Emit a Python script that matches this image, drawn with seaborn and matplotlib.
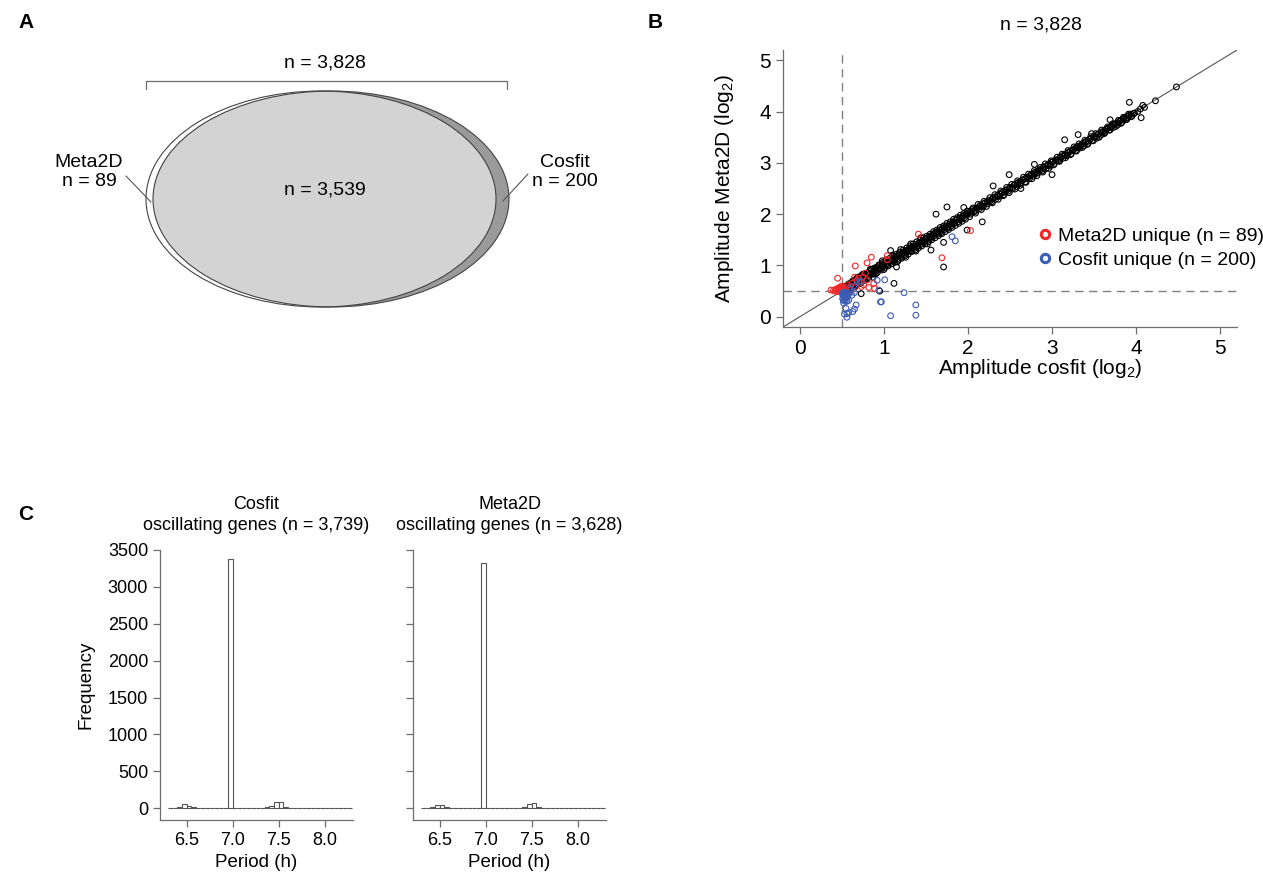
import numpy as np
import matplotlib
matplotlib.use("Agg")
import matplotlib.pyplot as plt
from matplotlib.patches import Ellipse
from matplotlib.lines import Line2D
import seaborn as sns

# ---- panel A: overlap counts
n_total = "3,828"
n_shared = "3,539"
n_meta2d_only = 89
n_cosfit_only = 200

# ---- panel B: amplitudes (log2)
shared_cosfit = [
    0.50, 0.51, 0.52, 0.53, 0.54, 0.55, 0.56, 0.57, 0.58, 0.59, 0.60, 0.61, 0.62, 0.63,
    0.64, 0.65, 0.66, 0.68, 0.70, 0.71, 0.72, 0.74, 0.75, 0.76, 0.78, 0.80, 0.81, 0.83,
    0.85, 0.86, 0.88, 0.90, 0.91, 0.93, 0.95, 0.96, 0.98, 1.00,
    1.02, 1.04, 1.06, 1.08, 1.10, 1.12, 1.14, 1.16, 1.18, 1.20, 1.22, 1.24, 1.26, 1.28,
    1.30, 1.32, 1.34, 1.36, 1.38, 1.40, 1.42, 1.44, 1.46, 1.48, 1.50, 1.52, 1.54, 1.56,
    1.58, 1.60, 1.62, 1.64, 1.66, 1.68, 1.70, 1.72, 1.74, 1.76, 1.78, 1.80, 1.82, 1.84,
    1.86, 1.88, 1.90, 1.92, 1.94, 1.96, 1.98,
    2.00, 2.03, 2.05, 2.08, 2.10, 2.13, 2.15, 2.18, 2.20, 2.23, 2.25, 2.28, 2.30, 2.33,
    2.35, 2.38, 2.40, 2.43, 2.45, 2.48, 2.50, 2.53, 2.55, 2.58, 2.60, 2.63, 2.65, 2.68,
    2.70, 2.73, 2.75, 2.78, 2.80, 2.83, 2.85, 2.88, 2.90, 2.93, 2.95, 2.98,
    3.00, 3.03, 3.05, 3.08, 3.10, 3.13, 3.15, 3.18, 3.20, 3.23, 3.25, 3.28, 3.30, 3.33,
    3.35, 3.38, 3.40, 3.43, 3.45, 3.48, 3.50, 3.53, 3.55, 3.58, 3.60, 3.63, 3.65, 3.68,
    3.70, 3.73, 3.75, 3.78, 3.80, 3.83, 3.86, 3.89, 3.92, 3.95, 3.98, 4.02, 4.05, 4.10,
    1.62, 1.75, 2.17, 1.99, 1.71, 1.71, 1.56, 1.12, 0.95, 0.73, 1.15, 2.30, 2.49, 2.63,
    3.00, 3.15, 3.31, 3.69, 3.92, 4.06, 4.08, 4.23, 4.48, 2.79, 1.95, 1.08, 0.87, 3.47,
]
shared_meta2d = [
    0.55, 0.50, 0.58, 0.52, 0.49, 0.60, 0.55, 0.53, 0.64, 0.56, 0.62, 0.58, 0.67, 0.60,
    0.63, 0.70, 0.62, 0.72, 0.68, 0.76, 0.70, 0.79, 0.73, 0.77, 0.83, 0.78, 0.86, 0.82,
    0.90, 0.84, 0.93, 0.88, 0.96, 0.92, 1.00, 0.94, 1.03, 0.99,
    1.07, 1.01, 1.10, 1.06, 1.13, 1.09, 1.18, 1.13, 1.22, 1.16, 1.25, 1.21, 1.29, 1.26,
    1.33, 1.28, 1.37, 1.33, 1.41, 1.37, 1.44, 1.41, 1.49, 1.46, 1.53, 1.49, 1.56, 1.53,
    1.61, 1.58, 1.65, 1.61, 1.69, 1.64, 1.73, 1.70, 1.77, 1.73, 1.80, 1.77, 1.85, 1.82,
    1.89, 1.85, 1.93, 1.90, 1.96, 1.93, 2.00,
    2.03, 2.00, 2.09, 2.05, 2.12, 2.10, 2.18, 2.14, 2.22, 2.20, 2.27, 2.24, 2.32, 2.29,
    2.37, 2.35, 2.42, 2.38, 2.47, 2.45, 2.52, 2.49, 2.57, 2.54, 2.62, 2.60, 2.67, 2.63,
    2.72, 2.69, 2.77, 2.74, 2.82, 2.80, 2.86, 2.84, 2.92, 2.89, 2.96, 2.94,
    3.02, 2.99, 3.06, 3.04, 3.11, 3.09, 3.16, 3.14, 3.21, 3.18, 3.26, 3.24, 3.31, 3.29,
    3.36, 3.33, 3.41, 3.38, 3.46, 3.44, 3.51, 3.48, 3.56, 3.54, 3.61, 3.59, 3.66, 3.64,
    3.71, 3.69, 3.76, 3.74, 3.81, 3.79, 3.87, 3.85, 3.92, 3.91, 3.97, 4.00, 4.05, 4.08,
    2.00, 2.14, 1.85, 1.69, 1.45, 0.97, 1.30, 0.65, 0.50, 0.45, 0.97, 2.55, 2.77, 2.50,
    2.77, 3.45, 3.55, 3.84, 4.18, 3.88, 4.12, 4.21, 4.48, 2.97, 2.13, 1.29, 0.77, 3.57,
]
# more of the dense band, as (cosfit, meta2d) pairs: edges of the band...
band_pairs = [
    (0.53, 0.59), (0.55, 0.52), (0.58, 0.61), (0.61, 0.66), (0.64, 0.58), (0.67, 0.74),
    (0.69, 0.64), (0.73, 0.80), (0.77, 0.71), (0.79, 0.84), (0.82, 0.76), (0.84, 0.91),
    (0.87, 0.83), (0.89, 0.95), (0.92, 0.86), (0.94, 1.01), (0.97, 0.91), (0.99, 1.06),
    (1.01, 0.96), (1.03, 1.11), (1.05, 0.99), (1.07, 1.14), (1.09, 1.03), (1.11, 1.17),
    (1.13, 1.06), (1.15, 1.22), (1.17, 1.10), (1.19, 1.26), (1.21, 1.14), (1.23, 1.30),
    (1.25, 1.19), (1.27, 1.34), (1.29, 1.22), (1.31, 1.38), (1.33, 1.27), (1.35, 1.42),
    (1.37, 1.30), (1.39, 1.46), (1.41, 1.34), (1.43, 1.50), (1.45, 1.38), (1.47, 1.54),
    (1.49, 1.42), (1.51, 1.57), (1.53, 1.46), (1.55, 1.61), (1.57, 1.50), (1.59, 1.66),
    (1.61, 1.54), (1.63, 1.69), (1.65, 1.58), (1.67, 1.74), (1.69, 1.62), (1.71, 1.77),
    (1.73, 1.66), (1.75, 1.82), (1.77, 1.70), (1.79, 1.85), (1.81, 1.74), (1.83, 1.90),
    (1.85, 1.78), (1.87, 1.93), (1.89, 1.82), (1.91, 1.98), (1.93, 1.86), (1.95, 2.01),
    (1.97, 1.90), (1.99, 2.06), (2.02, 1.95), (2.06, 2.12), (2.09, 2.02), (2.12, 2.19),
    (2.16, 2.09), (2.19, 2.25), (2.22, 2.15), (2.26, 2.32), (2.29, 2.22), (2.32, 2.38),
    (2.36, 2.29), (2.39, 2.45), (2.42, 2.36), (2.46, 2.52), (2.49, 2.42), (2.52, 2.58),
    (2.56, 2.49), (2.59, 2.65), (2.62, 2.56), (2.66, 2.72), (2.69, 2.62), (2.72, 2.78),
    (2.76, 2.69), (2.79, 2.85), (2.82, 2.75), (2.86, 2.91), (2.89, 2.82), (2.92, 2.98),
    (2.96, 2.89), (2.99, 3.04), (3.02, 2.96), (3.06, 3.11), (3.09, 3.03), (3.12, 3.17),
    (3.16, 3.10), (3.19, 3.24), (3.22, 3.16), (3.26, 3.31), (3.29, 3.23), (3.32, 3.37),
    (3.36, 3.30), (3.39, 3.44), (3.42, 3.36), (3.46, 3.51), (3.49, 3.43), (3.52, 3.57),
    (3.56, 3.50), (3.59, 3.64), (3.62, 3.57), (3.66, 3.70), (3.69, 3.64), (3.72, 3.76),
    (3.76, 3.71), (3.79, 3.83), (3.82, 3.77), (3.85, 3.89), (3.88, 3.84), (3.91, 3.95),
    (3.94, 3.90),
]
# ...and its core
core_pairs = [
    (0.52, 0.53), (0.55, 0.56), (0.58, 0.57), (0.61, 0.63), (0.64, 0.65), (0.67, 0.66),
    (0.70, 0.72), (0.73, 0.73), (0.76, 0.75), (0.79, 0.81), (0.82, 0.83), (0.85, 0.84),
    (0.88, 0.90), (0.91, 0.91), (0.94, 0.93), (0.97, 0.99), (1.00, 1.02), (1.03, 1.03),
    (1.06, 1.08), (1.09, 1.10), (1.12, 1.11), (1.15, 1.17), (1.18, 1.19), (1.21, 1.20),
    (1.24, 1.26), (1.27, 1.28), (1.30, 1.29), (1.33, 1.35), (1.36, 1.37), (1.39, 1.38),
    (1.42, 1.44), (1.45, 1.46), (1.48, 1.47), (1.51, 1.53), (1.54, 1.55), (1.57, 1.56),
    (1.60, 1.62), (1.63, 1.64), (1.66, 1.65), (1.69, 1.71), (1.72, 1.73), (1.75, 1.74),
    (1.78, 1.80), (1.81, 1.82), (1.84, 1.83), (1.87, 1.89), (1.90, 1.91), (1.93, 1.92),
    (1.96, 1.98), (1.99, 1.99), (2.02, 2.03), (2.05, 2.06), (2.08, 2.07), (2.11, 2.12),
    (2.14, 2.15), (2.17, 2.16), (2.20, 2.21), (2.23, 2.24), (2.26, 2.25), (2.29, 2.30),
    (2.32, 2.33), (2.35, 2.34), (2.38, 2.39), (2.41, 2.42), (2.44, 2.43), (2.47, 2.48),
    (2.50, 2.51), (2.53, 2.52), (2.56, 2.57), (2.59, 2.60), (2.62, 2.61), (2.65, 2.66),
    (2.68, 2.69), (2.71, 2.70), (2.74, 2.75), (2.77, 2.78), (2.80, 2.79), (2.83, 2.84),
    (2.86, 2.87), (2.89, 2.88), (2.92, 2.93), (2.95, 2.96), (2.98, 2.97), (3.01, 3.02),
    (3.04, 3.05), (3.07, 3.06), (3.10, 3.11), (3.13, 3.14), (3.16, 3.15), (3.19, 3.20),
    (3.22, 3.23), (3.25, 3.24), (3.28, 3.29), (3.31, 3.32), (3.34, 3.33), (3.37, 3.38),
    (3.40, 3.41), (3.43, 3.42), (3.46, 3.47), (3.49, 3.50), (3.52, 3.51), (3.55, 3.56),
    (3.58, 3.59), (3.61, 3.60), (3.64, 3.65), (3.67, 3.68), (3.70, 3.69), (3.73, 3.74),
    (3.76, 3.77), (3.79, 3.78), (3.82, 3.83), (3.85, 3.86), (3.88, 3.87), (3.91, 3.92),
    (3.94, 3.95), (3.97, 3.96),
    (0.57, 0.50), (0.60, 0.54), (0.66, 0.60), (0.72, 0.65), (0.80, 0.74), (0.63, 0.70),
    (0.69, 0.77), (0.75, 0.83), (0.84, 0.93), (0.90, 0.83), (1.00, 0.92), (0.98, 1.09),
    (1.10, 1.20), (1.16, 1.07), (1.20, 1.31), (1.26, 1.16), (1.32, 1.42), (1.38, 1.28),
    (1.44, 1.54), (1.52, 1.42),
]
meta2d_unique_cosfit = [
    0.42, 0.44, 0.45, 0.46, 0.47, 0.48, 0.49, 0.50, 0.51, 0.52, 0.53, 0.48, 0.46, 0.50,
    0.55, 0.57, 0.60, 0.62, 0.70, 0.72, 0.78, 0.68, 0.76, 0.40, 0.43, 0.37, 0.45, 0.66,
    0.80, 0.85, 1.04, 1.04, 1.41, 1.69, 2.03, 0.65, 0.75, 0.80, 0.88, 0.89, 0.82, 0.73,
    0.66, 0.59, 0.54, 0.49,
]
meta2d_unique_meta2d = [
    0.50, 0.52, 0.49, 0.53, 0.51, 0.55, 0.50, 0.53, 0.57, 0.51, 0.55, 0.58, 0.56, 0.60,
    0.57, 0.62, 0.58, 0.65, 0.75, 0.68, 0.85, 0.71, 0.62, 0.51, 0.54, 0.52, 0.75, 0.99,
    1.05, 1.16, 1.19, 1.11, 1.61, 1.15, 1.68, 0.77, 0.77, 0.72, 0.65, 0.55, 0.57, 0.59,
    0.58, 0.52, 0.48, 0.55,
]
cosfit_unique_cosfit = [
    0.51, 0.52, 0.51, 0.53, 0.52, 0.54, 0.53, 0.55, 0.51, 0.52, 0.56, 0.54, 0.57, 0.53,
    0.55, 0.58, 0.60, 0.62, 0.65, 0.56, 0.52, 0.55, 0.56, 0.53, 0.56, 0.58, 0.63, 0.65,
    0.67, 0.58, 0.97, 1.08, 1.38, 1.38, 1.24, 0.94, 1.81, 1.85, 1.01, 0.92, 0.73, 0.96,
    0.60, 0.64, 0.70, 0.52, 0.54,
]
cosfit_unique_meta2d = [
    0.35, 0.40, 0.45, 0.38, 0.32, 0.42, 0.47, 0.36, 0.42, 0.48, 0.44, 0.30, 0.40, 0.34,
    0.46, 0.45, 0.48, 0.42, 0.47, 0.30, 0.27, 0.16, 0.06, 0.05, -0.01, 0.08, 0.10, 0.15,
    0.23, 0.32, 0.29, 0.02, 0.23, 0.03, 0.47, 0.52, 1.56, 1.48, 0.72, 0.71, 0.69, 0.29,
    0.55, 0.60, 0.68, 0.44, 0.37,
]

# ---- panel C: period histograms (bin starts, width 0.05 h)
period_bin_starts = [
    6.30, 6.35, 6.40, 6.45, 6.50, 6.55, 6.60, 6.65, 6.70, 6.75,
    6.80, 6.85, 6.90, 6.95, 7.00, 7.05, 7.10, 7.15, 7.20, 7.25,
    7.30, 7.35, 7.40, 7.45, 7.50, 7.55, 7.60, 7.65, 7.70, 7.75,
    7.80, 7.85, 7.90, 7.95, 8.00, 8.05, 8.10, 8.15, 8.20, 8.25,
]
cosfit_period_counts = [
    2, 6, 18, 55, 33, 10, 3, 1, 1, 0,
    0, 0, 0, 3375, 0, 0, 0, 0, 0, 1,
    3, 12, 33, 82, 80, 14, 3, 1, 1, 0,
    1, 0, 1, 0, 1, 0, 1, 0, 0, 1,
]
meta2d_period_counts = [
    2, 5, 14, 45, 45, 12, 3, 1, 1, 0,
    0, 0, 0, 3322, 0, 0, 0, 0, 0, 1,
    3, 8, 22, 55, 65, 12, 3, 1, 1, 1,
    0, 1, 0, 1, 1, 0, 1, 0, 1, 0,
]
hist_titles = ["Cosfit\noscillating genes (n = 3,739)",
               "Meta2D\noscillating genes (n = 3,628)"]

sns.set_style("ticks")
plt.rcParams["font.family"] = ["Liberation Sans", "DejaVu Sans"]
plt.rcParams["mathtext.fontset"] = "custom"
plt.rcParams["mathtext.rm"] = "Liberation Sans"
plt.rcParams["mathtext.default"] = "regular"
plt.rcParams["text.color"] = "black"
plt.rcParams["axes.labelcolor"] = "black"

W, H = 1263, 877
fig = plt.figure(figsize=(W / 100, H / 100), dpi=100)


def px_axes(x0, y0, x1, y1):
    # axes placed by pixel box (top-left origin)
    return fig.add_axes([x0 / W, 1 - y1 / H, (x1 - x0) / W, (y1 - y0) / H])


axis_grey = "#6e6e6e"

# ================= A: Venn
ax_a = px_axes(0, 0, 630, 330)
ax_a.set_xlim(0, 630)
ax_a.set_ylim(330, 0)
ax_a.axis("off")

e_meta = dict(xy=(321, 199), width=350, height=216)
e_cos = dict(xy=(331, 199), width=356, height=216)
ax_a.add_patch(Ellipse(**e_meta, facecolor="white", edgecolor="none"))
cos_patch = Ellipse(**e_cos, facecolor="#9a9a9a", edgecolor="none")
ax_a.add_patch(cos_patch)
inter = Ellipse(**e_meta, facecolor="#d3d3d3", edgecolor="none")
ax_a.add_patch(inter)
inter.set_clip_path(cos_patch)
ax_a.add_patch(Ellipse(**e_meta, facecolor="none", edgecolor="#444444", lw=0.8))
ax_a.add_patch(Ellipse(**e_cos, facecolor="none", edgecolor="#444444", lw=0.8))

ax_a.plot([146, 146, 507, 507], [89, 81, 81, 89], color=axis_grey, lw=0.9)
ax_a.text(325, 63, f"n = {n_total}", ha="center", va="center", fontsize=14)
ax_a.text(325, 190, f"n = {n_shared}", ha="center", va="center", fontsize=14)
ax_a.text(89, 172, f"Meta2D\nn = {n_meta2d_only}", ha="center", va="center",
          fontsize=14, linespacing=1.2)
ax_a.text(565, 172, f"Cosfit\nn = {n_cosfit_only}", ha="center", va="center",
          fontsize=14, linespacing=1.2)
ax_a.plot([126, 151], [176, 202], color="#555555", lw=0.8)
ax_a.plot([528, 503], [174, 201], color="#555555", lw=0.8)

# ================= B: scatter
ax_b = px_axes(783, 50, 1237, 327)
ax_b.axhline(0.5, color="#808080", lw=1.0, dashes=(6, 4), zorder=1)
ax_b.axvline(0.5, color="#808080", lw=1.0, dashes=(6, 4), zorder=1)
ax_b.axline((0, 0), slope=1, color="#555555", lw=0.8, zorder=1)
band_cosfit = [p[0] for p in band_pairs] + [p[0] for p in core_pairs]
band_meta2d = [p[1] for p in band_pairs] + [p[1] for p in core_pairs]
pt = dict(marker="o", s=17, facecolor="none", linewidth=0.8)
sns.scatterplot(x=shared_cosfit, y=shared_meta2d, ax=ax_b, edgecolor="black", zorder=2, **pt)
sns.scatterplot(x=band_cosfit, y=band_meta2d, ax=ax_b, edgecolor="black", zorder=2, **pt)
sns.scatterplot(x=meta2d_unique_cosfit, y=meta2d_unique_meta2d, ax=ax_b,
                edgecolor="#f02828", zorder=3, **pt)
sns.scatterplot(x=cosfit_unique_cosfit, y=cosfit_unique_meta2d, ax=ax_b,
                edgecolor="#3a5cb4", zorder=3, **pt)
ax_b.set_xlim(-0.2, 5.2)
ax_b.set_ylim(-0.2, 5.2)
ax_b.set_xticks(range(6))
ax_b.set_yticks(range(6))
ax_b.tick_params(labelsize=15, color=axis_grey, labelcolor="black", length=5, width=0.9)
for side in ["left", "bottom"]:
    ax_b.spines[side].set_color(axis_grey)
    ax_b.spines[side].set_linewidth(0.9)
sns.despine(ax=ax_b)
ax_b.set_xlabel("Amplitude cosfit (log$_2$)", fontsize=15)
ax_b.set_ylabel("Amplitude Meta2D (log$_2$)", fontsize=15)
ax_b.xaxis.set_label_coords(0.566, -0.11)
ax_b.yaxis.set_label_coords(-0.103, 0.5)
fig.text(1041 / W, 1 - 25 / H, f"n = {n_total}", ha="center", va="center", fontsize=14)

handles = [
    Line2D([], [], ls="none", marker="o", ms=6, mfc="none", mec="#f02828", mew=2.2,
           label=f"Meta2D unique (n = {n_meta2d_only})"),
    Line2D([], [], ls="none", marker="o", ms=6, mfc="none", mec="#3a5cb4", mew=2.2,
           label=f"Cosfit unique (n = {n_cosfit_only})"),
]
fig.legend(handles=handles, loc="upper left", bbox_to_anchor=(1039 / W, 1 - 227 / H),
           frameon=False, fontsize=14, handlelength=0.6, handletextpad=0.4,
           labelspacing=0.35, borderpad=0, borderaxespad=0)

# ================= C: histograms
bin_edges = period_bin_starts + [8.30]
bin_mids = [b + 0.025 for b in period_bin_starts]
for i, (counts, title) in enumerate(zip([cosfit_period_counts, meta2d_period_counts],
                                        hist_titles)):
    x0 = 160 if i == 0 else 413
    ax = px_axes(x0, 550, x0 + 193, 820)
    sns.histplot(x=bin_mids, weights=counts, bins=bin_edges, ax=ax, stat="count",
                 color="white", edgecolor="#555555", linewidth=0.8, alpha=1)
    ax.set_xlim(6.21, 8.31)
    ax.set_ylim(-160, 3500)
    ax.set_xticks([6.5, 7.0, 7.5, 8.0])
    ax.set_xticklabels(["6.5", "7.0", "7.5", "8.0"])
    ax.set_yticks(range(0, 3501, 500))
    ax.tick_params(labelsize=13, color=axis_grey, labelcolor="black", length=5, width=0.9)
    for side in ["left", "bottom"]:
        ax.spines[side].set_color(axis_grey)
        ax.spines[side].set_linewidth(0.9)
    sns.despine(ax=ax)
    ax.set_xlabel("Period (h)", fontsize=13.5)
    ax.text(0.5, 1 + (550 - 515) / 270, title, transform=ax.transAxes, ha="center",
            va="center", fontsize=13, linespacing=1.3)
    if i == 0:
        ax.set_ylabel("Frequency", fontsize=13.5)
        ax.yaxis.set_label_coords(-0.34, 0.5)
    else:
        ax.set_ylabel("")
        ax.set_yticklabels([])

for letter, (x, y) in zip("ABC", [(18, 22), (648, 22), (18, 515)]):
    fig.text(x / W, 1 - y / H, letter, fontsize=15, fontweight="bold",
             ha="left", va="center")

fig.savefig("out.png", dpi=100)
